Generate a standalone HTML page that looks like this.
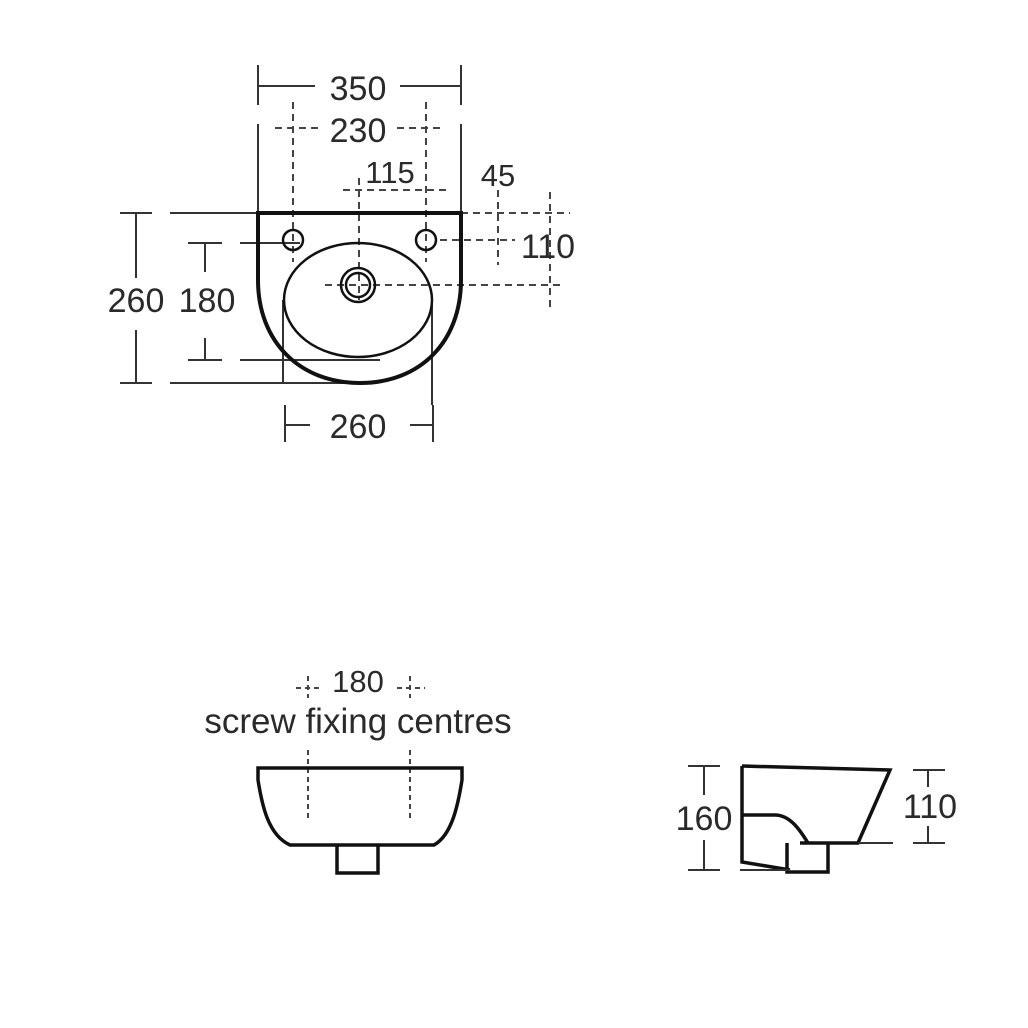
<!DOCTYPE html>
<html><head><meta charset="utf-8"><style>
html,body{margin:0;padding:0;background:#fff;}
svg{display:block}
text{font-family:"Liberation Sans",sans-serif;fill:#2a2a2a;}
</style></head><body>
<svg width="1028" height="1028" viewBox="0 0 1028 1028" xmlns="http://www.w3.org/2000/svg">
<g stroke="#333" fill="none" stroke-width="2">
<line x1="258" y1="65" x2="258" y2="105"/><line x1="461" y1="65" x2="461" y2="105"/>
<line x1="258" y1="86" x2="315" y2="86"/><line x1="400" y1="86" x2="461" y2="86"/>
<line x1="258" y1="124" x2="258" y2="213"/><line x1="461" y1="124" x2="461" y2="213"/>
<line x1="120" y1="213" x2="152" y2="213"/><line x1="120" y1="383" x2="152" y2="383"/>
<line x1="136" y1="213" x2="136" y2="278"/><line x1="136" y1="330" x2="136" y2="383"/>
<line x1="170" y1="213" x2="258" y2="213"/><line x1="170" y1="383" x2="360" y2="383"/>
<line x1="188" y1="243" x2="222" y2="243"/><line x1="188" y1="360" x2="222" y2="360"/>
<line x1="205" y1="243" x2="205" y2="272"/><line x1="205" y1="338" x2="205" y2="360"/>
<line x1="240" y1="243" x2="300" y2="243"/><line x1="240" y1="360" x2="380" y2="360"/>
<line x1="285" y1="405" x2="285" y2="442"/><line x1="433" y1="405" x2="433" y2="442"/>
<line x1="285" y1="425" x2="310" y2="425"/><line x1="410" y1="425" x2="433" y2="425"/>
<line x1="283" y1="300" x2="283" y2="383"/><line x1="432" y1="300" x2="432" y2="405"/>
</g>
<g stroke="#444" fill="none" stroke-width="2" stroke-dasharray="7,5">
<line x1="293" y1="102" x2="293" y2="262"/><line x1="426" y1="102" x2="426" y2="262"/>
<line x1="275" y1="128" x2="318" y2="128"/><line x1="397" y1="128" x2="445" y2="128"/>
<line x1="343" y1="190" x2="447" y2="190"/><line x1="359" y1="178" x2="359" y2="300"/>
<line x1="461" y1="213" x2="570" y2="213"/><line x1="440" y1="240" x2="515" y2="240"/>
<line x1="325" y1="285" x2="565" y2="285"/>
<line x1="498" y1="190" x2="498" y2="265"/><line x1="550" y1="192" x2="550" y2="308"/>
</g>
<g stroke="#111" fill="none" stroke-width="4">
<path d="M258,213 L461,213 L461,280 C461,342 420,383 360,383 C300,383 258,342 258,280 Z"/>
</g>
<g stroke="#111" fill="none" stroke-width="2.5">
<circle cx="293" cy="240" r="10"/><circle cx="426" cy="240" r="10"/>
<ellipse cx="358" cy="300" rx="74" ry="57"/>
<circle cx="358" cy="285" r="17"/><circle cx="358" cy="285" r="12"/>
</g>
<g font-size="34" text-anchor="middle">
<text x="358" y="100">350</text>
<text x="358" y="142">230</text>
<text x="390" y="183" font-size="31">115</text>
<text x="498" y="186" font-size="31">45</text>
<text x="548" y="258">110</text>
<text x="136" y="312">260</text>
<text x="207" y="312">180</text>
<text x="358" y="438">260</text>
<text x="358" y="692" font-size="31">180</text>
<text x="358" y="733" font-size="35">screw fixing centres</text>
<text x="704" y="830">160</text>
<text x="930" y="818">110</text>
</g>
<g stroke="#444" fill="none" stroke-width="2" stroke-dasharray="5,4">
<line x1="296" y1="688" x2="322" y2="688"/><line x1="397" y1="688" x2="425" y2="688"/>
<line x1="308" y1="676" x2="308" y2="698"/><line x1="410" y1="676" x2="410" y2="698"/>
<line x1="308" y1="750" x2="308" y2="818"/><line x1="410" y1="750" x2="410" y2="818"/>
</g>
<g stroke="#111" fill="none" stroke-width="3.5">
<path d="M258,768 L462,768 L462,780 C458,805 452,835 434,845 L290,845 C268,835 262,805 258,780 Z"/>
<path d="M337,845 L337,873 L378,873 L378,845"/>
<path d="M742,766 L890,770 L858,843 L800,843"/>
<path d="M742,766 L742,862 L790,870"/>
<path d="M742,815 L775,815 C790,815 800,830 808,843"/>
<path d="M787,843 L787,872 L828,872 L828,843"/>
</g>
<g stroke="#333" fill="none" stroke-width="2">
<line x1="688" y1="766" x2="720" y2="766"/><line x1="688" y1="870" x2="720" y2="870"/>
<line x1="704" y1="766" x2="704" y2="795"/><line x1="704" y1="840" x2="704" y2="870"/>
<line x1="740" y1="870" x2="790" y2="870"/>
<line x1="913" y1="770" x2="945" y2="770"/><line x1="913" y1="843" x2="945" y2="843"/>
<line x1="928" y1="770" x2="928" y2="787"/><line x1="928" y1="826" x2="928" y2="843"/>
<line x1="858" y1="843" x2="893" y2="843"/>
</g>
</svg>
</body></html>
